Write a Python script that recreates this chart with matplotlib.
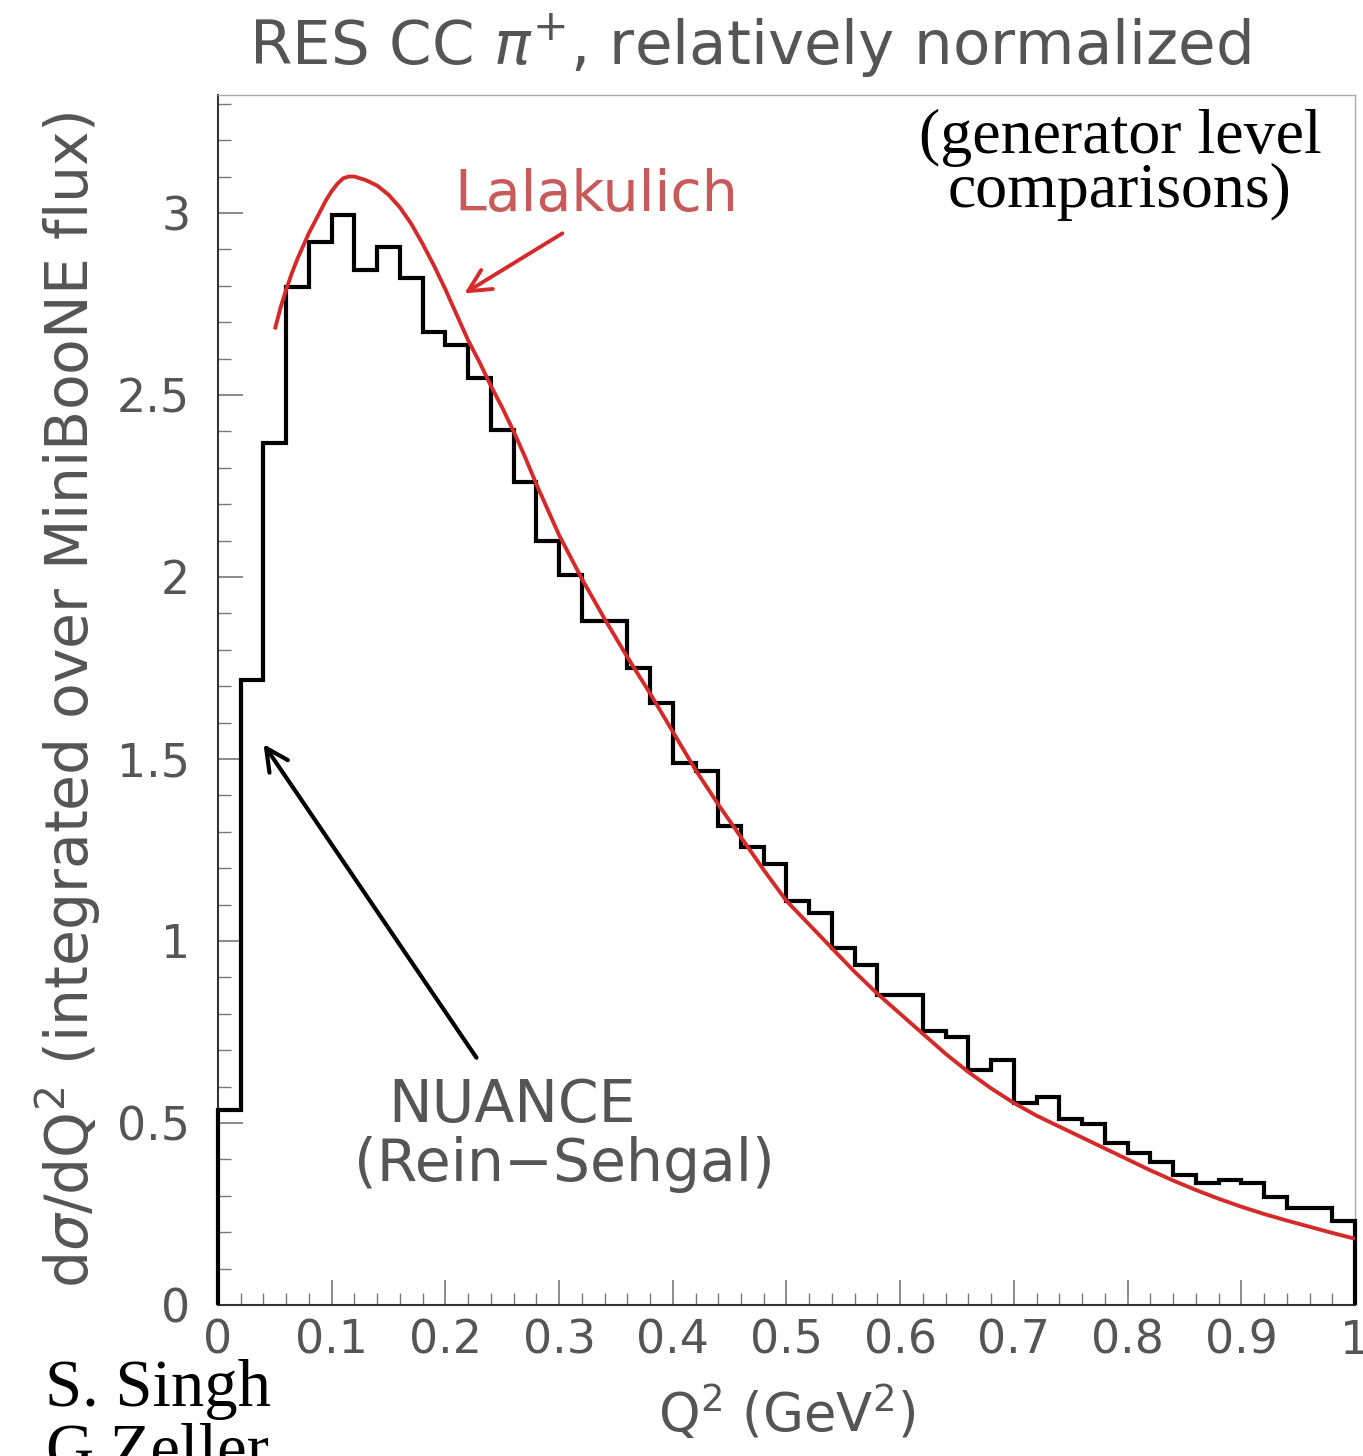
import matplotlib
matplotlib.use("Agg")
import matplotlib.pyplot as plt
import numpy as np
from matplotlib.ticker import MultipleLocator

# ---- data ----
bin_edges = [round(0.02 * i, 2) for i in range(51)]
nuance_values = [0.536, 1.717, 2.368, 2.797, 2.92, 2.995, 2.843, 2.907, 2.82, 2.673,
                 2.637, 2.547, 2.404, 2.26, 2.10, 2.005, 1.88, 1.88, 1.75, 1.655,
                 1.488, 1.468, 1.315, 1.258, 1.212, 1.11, 1.078, 0.98, 0.934, 0.852,
                 0.852, 0.752, 0.736, 0.646, 0.673, 0.555, 0.571, 0.512, 0.497, 0.445,
                 0.418, 0.394, 0.356, 0.334, 0.343, 0.334, 0.298, 0.266, 0.266, 0.231]

lala_q2 = [0.05, 0.055, 0.06, 0.065, 0.07, 0.075, 0.08, 0.085, 0.09, 0.095, 0.10,
           0.105, 0.11, 0.115, 0.12, 0.13, 0.14, 0.15, 0.16, 0.17, 0.18, 0.19, 0.20,
           0.21, 0.22, 0.23, 0.24, 0.25, 0.26, 0.27, 0.28, 0.29, 0.30, 0.32, 0.34,
           0.36, 0.38, 0.40, 0.42, 0.44, 0.46, 0.48, 0.50, 0.52, 0.54, 0.56, 0.58,
           0.60, 0.62, 0.64, 0.66, 0.68, 0.70, 0.72, 0.74, 0.76, 0.78, 0.80, 0.82,
           0.84, 0.86, 0.88, 0.90, 0.92, 0.94, 0.96, 0.98, 1.00]
lala_vals = [2.68, 2.74, 2.79, 2.835, 2.875, 2.91, 2.945, 2.975, 3.005, 3.035, 3.06,
             3.08, 3.095, 3.10, 3.10, 3.09, 3.075, 3.05, 3.015, 2.97, 2.915, 2.855, 2.79,
             2.72, 2.65, 2.59, 2.525, 2.465, 2.40, 2.33, 2.255, 2.185, 2.115, 1.995, 1.885,
             1.78, 1.68, 1.575, 1.47, 1.375, 1.285, 1.195, 1.11, 1.045, 0.98, 0.915, 0.855,
             0.80, 0.745, 0.69, 0.64, 0.595, 0.555, 0.52, 0.49, 0.46, 0.43, 0.40, 0.37,
             0.342, 0.316, 0.292, 0.27, 0.25, 0.232, 0.215, 0.198, 0.182]

x_ticks = [0, 0.1, 0.2, 0.3, 0.4, 0.5, 0.6, 0.7, 0.8, 0.9, 1]
x_tick_labels = ["0", "0.1", "0.2", "0.3", "0.4", "0.5", "0.6", "0.7", "0.8", "0.9", "1"]
y_ticks = [0, 0.5, 1, 1.5, 2, 2.5, 3]
y_tick_labels = ["0", "0.5", "1", "1.5", "2", "2.5", "3"]

GRAY = "#555555"
plt.rcParams['font.family'] = ['DejaVu Sans']

fig = plt.figure(figsize=(13.63, 14.56), dpi=100)
ax = fig.add_axes([218 / 1363, 1 - 1305 / 1456, (1355 - 218) / 1363, (1305 - 95) / 1456])

ax.stairs(nuance_values, bin_edges, baseline=0, fill=False, color="black", lw=3.0,
          clip_on=False, zorder=3)
ax.plot(lala_q2, lala_vals, color="#d42a2a", lw=2.8, zorder=4, solid_capstyle="butt")

ax.set_xlim(0, 1)
ax.set_ylim(0, 3.324)

ax.set_xticks(x_ticks)
ax.set_xticklabels(x_tick_labels)
ax.set_yticks(y_ticks)
ax.set_yticklabels(y_tick_labels)
ax.xaxis.set_minor_locator(MultipleLocator(0.02))
ax.yaxis.set_minor_locator(MultipleLocator(0.1))
ax.tick_params(which="both", direction="in", color="#777777", labelcolor=GRAY,
               labelsize=33)
ax.tick_params(which="major", length=18, width=1.2)
ax.tick_params(which="minor", length=9, width=1.0)
ax.tick_params(axis="x", pad=10)
ax.tick_params(axis="y", pad=20)

for side in ["left", "bottom"]:
    ax.spines[side].set_color("#333333")
    ax.spines[side].set_linewidth(1.5)
for side in ["top", "right"]:
    ax.spines[side].set_color("#aaaaaa")
    ax.spines[side].set_linewidth(1.0)

ax.set_xlabel(r"Q$^2$ (GeV$^2$)", fontsize=38, color=GRAY, labelpad=14)
ax.set_ylabel(r"d$\sigma$/dQ$^2$ (integrated over MiniBooNE flux)", fontsize=42,
              color=GRAY, labelpad=10)
fig.text(0.55, 1 - 46 / 1456, r"RES CC $\pi^{+}$, relatively normalized",
         fontsize=44, color=GRAY, ha="center", va="center")

fig.text(1120 / 1363, 1 - 165 / 1456, "(generator level\ncomparisons)",
         family="Liberation Serif", fontsize=46, color="black", ha="center",
         va="center", linespacing=0.92)

ax.text(0.3325, 3.049, "Lalakulich", fontsize=41, color="#c85a5a", ha="center",
        va="center")
ax.annotate("", xy=(0.2146, 2.775), xytext=(0.305, 2.948),
            arrowprops=dict(arrowstyle="->", color="#d42a2a", lw=2.8,
                            mutation_scale=40))

ax.text(0.2586, 0.549, "NUANCE", fontsize=42, color=GRAY, ha="center", va="center")
ax.text(0.305, 0.385, "(Rein\u2212Sehgal)", fontsize=42, color=GRAY, ha="center",
        va="center")
ax.annotate("", xy=(0.0387, 1.547), xytext=(0.2287, 0.673),
            arrowprops=dict(arrowstyle="->", color="black", lw=3,
                            mutation_scale=40))

fig.text(45 / 1363, 1 - 1390 / 1456, "S. Singh", family="Liberation Serif",
         fontsize=48, color="black", ha="left", va="center")
fig.text(45 / 1363, 1 - 1453 / 1456, "G.Zeller", family="Liberation Serif",
         fontsize=48, color="black", ha="left", va="center")

fig.savefig("out.png", dpi=100)
